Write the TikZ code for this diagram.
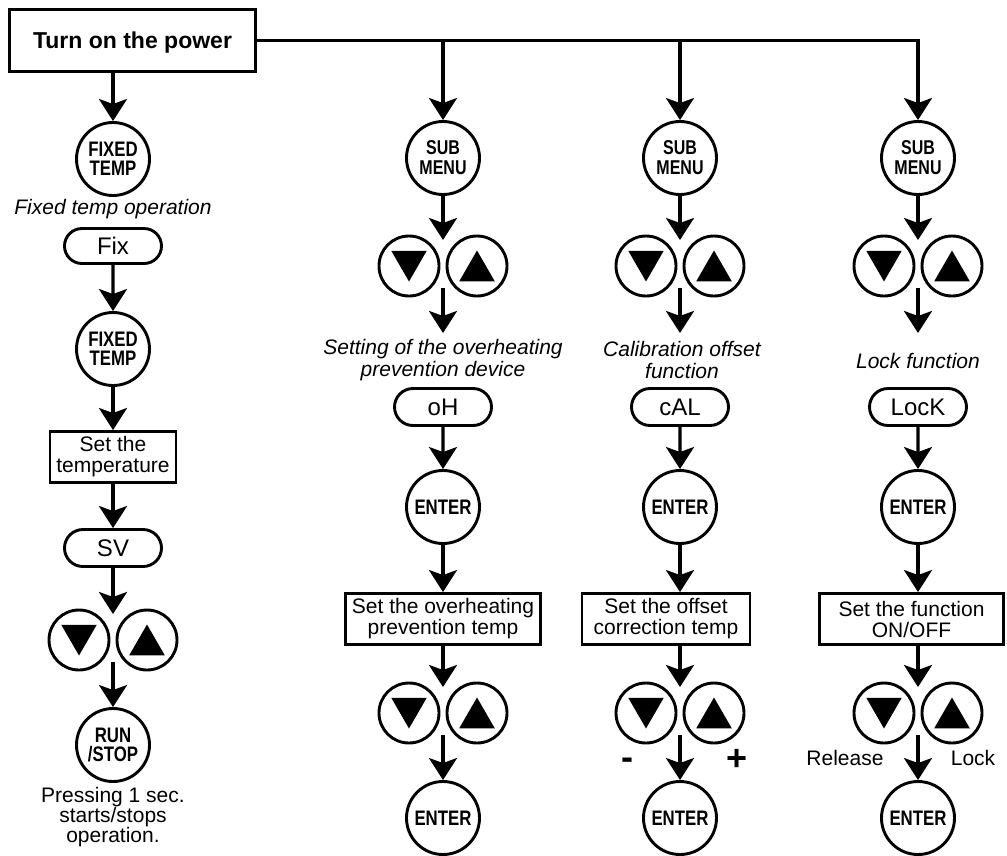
\documentclass[tikz,border=0pt]{standalone}
\usepackage{fontspec}
\setmainfont{Liberation Sans}
\newfontfamily\keyfont[FakeStretch=0.8]{Liberation Sans}
\usetikzlibrary{arrows.meta, shapes.misc, shapes.geometric}

\tikzset{
  keybtn/.style={circle, draw, line width=2.9pt, minimum size=73pt, inner sep=0pt, align=center,
    font=\keyfont\bfseries\fontsize{21}{19}\selectfont},
  subbtn/.style={keybtn, font=\keyfont\bfseries\fontsize{20}{20}\selectfont},
  arrowkey/.style={circle, draw, line width=2.9pt, minimum size=60pt, inner sep=0pt},
  tri/.style={regular polygon, regular polygon sides=3, fill, draw=none, minimum size=41pt, inner sep=0pt},
  dispbox/.style={rounded rectangle, draw, line width=2.9pt, minimum width=97pt, minimum height=37pt,
    inner sep=0pt, font=\fontsize{24}{24}\selectfont},
  setbox/.style={rectangle, draw, line width=2.9pt, minimum height=51pt, inner sep=0pt, align=center,
    font=\fontsize{21}{21}\selectfont},
  note/.style={align=center, inner sep=0pt, font=\itshape\fontsize{21}{22}\selectfont},
  side/.style={inner sep=0pt, font=\fontsize{21}{21}\selectfont},
  sign/.style={inner sep=0pt, font=\bfseries\fontsize{36}{36}\selectfont},
  flow/.style={line width=3.3pt, -{Stealth[length=22pt, width=28pt, inset=5pt]}},
  updown/.pic={
    \node[arrowkey] (-l) at (-34,0) {};
    \node[arrowkey] (-r) at (34,0) {};
    \node[tri, shape border rotate=180, yshift=5pt] (-dn) at (-34,0) {};
    \node[tri, yshift=-5pt] (-up) at (34,0) {};
    \coordinate (-in) at (0,-26);
    \coordinate (-out) at (0,22);
  }
}

\begin{document}
\begin{tikzpicture}[x=1pt, y=-1pt]
  \useasboundingbox (0,0) rectangle (1007,855);

  \node[setbox, minimum width=246pt, minimum height=62pt, text depth=0pt,
    font=\bfseries\fontsize{23}{23}\selectfont] (power) at (132.5,40.5) {Turn on the power};

  % fixed temp operation
  \node[keybtn] (fix1) at (113,159) {FIXED\\TEMP};
  \node[note] (fixnote) at (113,209) {Fixed temp operation};
  \node[dispbox, minimum height=35pt] (fix) at (113,246) {Fix};
  \node[keybtn] (fix2) at (113,349) {FIXED\\TEMP};
  \node[setbox, minimum width=126pt] (settemp) at (113,457) {Set the\\temperature};
  \node[dispbox] (sv) at (113,548) {SV};
  \pic (k1) at (113,640) {updown};
  \node[keybtn] (run) at (113,745) {RUN\\/STOP};
  \node[note, font=\fontsize{21}{20}\selectfont] (runnote) at (113,817) {Pressing 1 sec.\\starts/stops\\operation.};

  \draw[flow] (power.south -| fix1) -- (fix1);
  \draw[flow] (fix) -- (fix2);
  \draw[flow] (fix2) -- (settemp);
  \draw[flow] (settemp) -- (sv);
  \draw[flow] (sv) -- (k1-in);
  \draw[flow] (k1-out) -- (run);

  % overheating prevention
  \node[subbtn] (sub2) at (443,158) {SUB\\MENU};
  \pic (k2) at (443,266) {updown};
  \coordinate (t2) at (443,333);
  \node[note] (oHnote) at (443,360) {Setting of the overheating\\prevention device};
  \node[dispbox] (oH) at (443,407) {oH};
  \node[keybtn] (ent2) at (443,507) {ENTER};
  \node[setbox, minimum width=195pt] (setoH) at (443,619) {Set the overheating\\prevention temp};
  \pic (k2b) at (443,713) {updown};
  \node[keybtn] (done2) at (443,818) {ENTER};

  \draw[flow] (power.east -| sub2) -- (sub2);
  \draw[flow] (sub2) -- (k2-in);
  \draw[flow] (k2-out) -- (t2);
  \draw[flow] (oH) -- (ent2);
  \draw[flow] (ent2) -- (setoH);
  \draw[flow] (setoH) -- (k2b-in);
  \draw[flow] (k2b-out) -- (done2);

  % calibration offset
  \node[subbtn] (sub3) at (680,158) {SUB\\MENU};
  \pic (k3) at (680,266) {updown};
  \coordinate (t3) at (680,333);
  \node[note] (calnote) at (682,360) {Calibration offset\\function};
  \node[dispbox] (cal) at (680,407) {cAL};
  \node[keybtn] (ent3) at (680,507) {ENTER};
  \node[setbox, minimum width=168pt] (setcal) at (666,619) {Set the offset\\correction temp};
  \pic (k3b) at (680,713) {updown};
  \node[sign] (minus) at (627,764) {-};
  \node[sign] (plus) at (737,760) {+};
  \node[keybtn] (done3) at (680,818) {ENTER};

  \draw[flow] (power.east -| sub3) -- (sub3);
  \draw[flow] (sub3) -- (k3-in);
  \draw[flow] (k3-out) -- (t3);
  \draw[flow] (cal) -- (ent3);
  \draw[flow] (ent3) -- (ent3 |- setcal.north);
  \draw[flow] (setcal.south -| k3b-in) -- (k3b-in);
  \draw[flow] (k3b-out) -- (done3);

  % lock function
  \node[subbtn] (sub4) at (918,158) {SUB\\MENU};
  \pic (k4) at (918,266) {updown};
  \coordinate (t4) at (918,333);
  \node[note] (locknote) at (918,361) {Lock function};
  \node[dispbox] (lock) at (918,407) {LocK};
  \node[keybtn] (ent4) at (918,507) {ENTER};
  \node[setbox, minimum width=184pt] (setlock) at (911.5,619) {Set the function\\ON/OFF};
  \pic (k4b) at (918,713) {updown};
  \node[side] (release) at (845,758) {Release};
  \node[side] (locked) at (973,758) {Lock};
  \node[keybtn] (done4) at (918,818) {ENTER};

  \draw[flow] (power.east) -| (sub4);
  \draw[flow] (sub4) -- (k4-in);
  \draw[flow] (k4-out) -- (t4);
  \draw[flow] (lock) -- (ent4);
  \draw[flow] (ent4) -- (ent4 |- setlock.north);
  \draw[flow] (setlock.south -| k4b-in) -- (k4b-in);
  \draw[flow] (k4b-out) -- (done4);
\end{tikzpicture}
\end{document}
